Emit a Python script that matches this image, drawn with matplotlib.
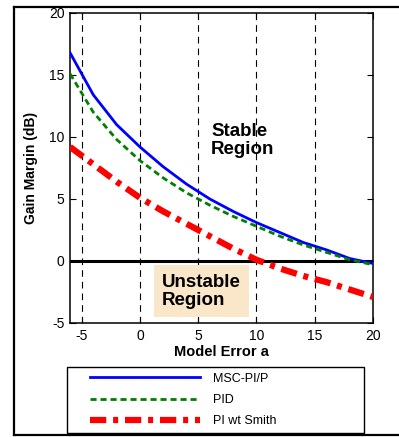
import numpy as np
import matplotlib
matplotlib.use("Agg")
import matplotlib.pyplot as plt
from matplotlib.lines import Line2D
from matplotlib.legend_handler import HandlerLine2D

plt.rcParams['font.family'] = ['Liberation Sans', 'DejaVu Sans']
plt.rcParams['axes.unicode_minus'] = False

# model error a
model_error = [-6, -4, -2, 0, 2, 4, 6, 8, 10, 12, 14, 16, 18, 20]
# gain margin (dB)
gm_msc = [16.8, 13.4, 11.0, 9.2, 7.6, 6.2, 5.0, 4.0, 3.1, 2.3, 1.5, 0.9, 0.2, -0.2]
gm_pid = [15.1, 12.0, 9.8, 8.1, 6.7, 5.5, 4.5, 3.6, 2.8, 2.0, 1.3, 0.7, 0.1, -0.3]
gm_smith = [9.2, 7.8, 6.4, 5.1, 4.0, 3.0, 2.0, 1.0, 0.1, -0.6, -1.2, -1.7, -2.3, -2.9]

labels = ["MSC-PI/P", "PID", "PI wt Smith"]
grid_x = [-5, 0, 5, 10, 15]

fig = plt.figure(figsize=(3.99, 4.37), dpi=100)
ax = fig.add_axes([0.1754, 0.2609, 0.7594, 0.7094])

for gx in grid_x:
    ax.axvline(gx, color='black', lw=0.8, dashes=(6, 4.5), zorder=1)
ax.axhline(0, color='black', lw=2.2, zorder=2)

l1, = ax.plot(model_error, gm_msc, color='#0000ff', lw=2, label=labels[0], zorder=3)
l2, = ax.plot(model_error, gm_pid, color='#008000', lw=2, dashes=(2.2, 1.4), label=labels[1], zorder=3)
l3, = ax.plot(model_error, gm_smith, color='#ff0000', lw=4.5, dashes=(2.6, 1.1, 0.8, 1.1),
              label=labels[2], zorder=3)

ax.set_xlim(-6, 20)
ax.set_ylim(-5, 20)
ax.set_xticks([-5, 0, 5, 10, 15, 20])
ax.set_yticks([-5, 0, 5, 10, 15, 20])
ax.tick_params(direction='in', length=4, width=0.8, labelsize=10, top=True, right=True, pad=4)
for s in ax.spines.values():
    s.set_linewidth(1.1)

ax.set_xlabel('Model Error a', fontsize=10.5, fontweight='bold', labelpad=2)
ax.set_ylabel('Gain Margin (dB)', fontsize=10, fontweight='bold', labelpad=8)

ax.text(6.1, 9.7, 'Stable\nRegion', fontsize=13.5, fontweight='bold', ha='left', va='center',
        linespacing=1.1, zorder=4)
ax.text(1.9, -2.45, 'Unstable\nRegion', fontsize=13.5, fontweight='bold', ha='left', va='center',
        linespacing=1.1, zorder=4,
        bbox=dict(boxstyle='square,pad=0.45', facecolor='#fae6c8', edgecolor='none'))

hm = {l: HandlerLine2D(xpad=1.35) for l in (l1, l2, l3)}
leg = fig.legend(handles=[l1, l2, l3], loc='lower left',
                 bbox_to_anchor=(67 / 399, 4 / 437, 297 / 399, 70 / 437), mode='expand',
                 fontsize=9, handlelength=10.2, handletextpad=1.0, borderpad=0.45,
                 labelspacing=0.75, borderaxespad=0, fancybox=False, framealpha=1,
                 handler_map=hm)
leg.get_frame().set_edgecolor('black')
leg.get_frame().set_linewidth(1.0)

# outer frame
for xs, ys in [([14 / 399, 14 / 399], [1 - 7 / 437, 1 - 435 / 437]),
               ([14 / 399, 1.0], [1 - 7 / 437, 1 - 7 / 437]),
               ([14 / 399, 1.0], [1 - 435 / 437, 1 - 435 / 437])]:
    fig.add_artist(Line2D(xs, ys, color='black', lw=1.6, transform=fig.transFigure))

fig.savefig('out.png', dpi=100)
